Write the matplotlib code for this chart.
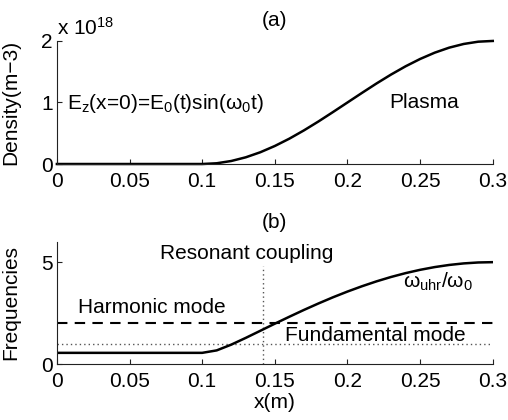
import matplotlib
matplotlib.use("Agg")
import matplotlib.pyplot as plt

plt.rcParams['font.family'] = ['Liberation Sans', 'DejaVu Sans']
plt.rcParams['mathtext.fontset'] = 'custom'
plt.rcParams['mathtext.rm'] = 'Liberation Sans'
plt.rcParams['mathtext.it'] = 'Liberation Sans'
plt.rcParams['font.size'] = 15

# positions along x (m)
x = [0.0, 0.10, 0.11, 0.12, 0.13, 0.14, 0.15, 0.16, 0.17, 0.18, 0.19, 0.20,
     0.21, 0.22, 0.23, 0.24, 0.25, 0.26, 0.27, 0.28, 0.29, 0.30]
# plasma density, units of 1e18 m^-3
density = [0.0, 0.0, 0.012, 0.049, 0.109, 0.191, 0.293, 0.412, 0.546, 0.691, 0.844, 1.0,
           1.156, 1.309, 1.454, 1.588, 1.707, 1.809, 1.891, 1.951, 1.988, 2.0]
# upper hybrid frequency over omega_0
w_uhr = [0.548, 0.548, 0.669, 0.951, 1.283, 1.631, 1.980, 2.321, 2.654, 2.972, 3.275, 3.557,
         3.818, 4.058, 4.273, 4.462, 4.624, 4.758, 4.863, 4.939, 4.985, 5.0]
harmonic = 2.0
fundamental = 1.0
x_res = 0.142
res_top = 4.8

xticks = [0, 0.05, 0.1, 0.15, 0.2, 0.25, 0.3]
xticklabels = ['0', '0.05', '0.1', '0.15', '0.2', '0.25', '0.3']

fig = plt.figure(figsize=(5.08, 4.2), dpi=100)
ax1 = fig.add_axes([0.112, 0.6095, 0.858, 0.293])
ax2 = fig.add_axes([0.112, 0.1333, 0.858, 0.291])

for ax in (ax1, ax2):
    for s in ('top', 'right'):
        ax.spines[s].set_visible(False)
    for s in ('left', 'bottom'):
        ax.spines[s].set_color('#222222')
        ax.spines[s].set_linewidth(0.8)
    ax.tick_params(direction='in', length=3.5, width=0.8, color='#222222')
    ax.tick_params(axis='x', pad=6)
    ax.tick_params(axis='y', pad=3)
    ax.set_xlim(0, 0.3)
    ax.set_xticks(xticks)
    ax.set_xticklabels(xticklabels)

# (a) density
ax1.plot(x, density, color='black', lw=1.8, clip_on=False)
ax1.set_ylim(0, 2)
ax1.set_yticks([0, 1, 2])
ax1.set_ylabel('Density(m\u22123)')
ax1.yaxis.set_label_coords(-0.083, 0.5)
ax1.set_title('(a)', fontsize=15, pad=11)
ax1.text(0.0, 1.05, 'x 10$^{18}$', transform=ax1.transAxes, ha='left', va='baseline')
ax1.text(0.007, 0.99, 'E$_z$(x=0)=E$_0$(t)sin(\u03c9$_0$t)', ha='left', va='center')
ax1.text(0.229, 1.0, 'Plasma', ha='left', va='center')

# (b) frequencies
ax2.axhline(harmonic, color='black', lw=1.5, ls=(0, (5, 3.5)))
ax2.axhline(fundamental, color='#555555', lw=1.0, ls=(0, (1, 2.2)))
ax2.plot([x_res, x_res], [0, res_top], color='#555555', lw=1.0, ls=(0, (1, 2.2)))
ax2.plot(x, w_uhr, color='black', lw=1.8)
ax2.set_ylim(0, 6)
ax2.set_yticks([0, 5])
ax2.set_ylabel('Frequencies')
ax2.yaxis.set_label_coords(-0.083, 0.5)
ax2.set_xlabel('x(m)')
ax2.xaxis.set_label_coords(0.5, -0.235)
ax2.set_title('(b)', fontsize=15, pad=10)
ax2.text(0.071, 5.44, 'Resonant coupling', ha='left', va='center')
ax2.text(0.0147, 2.77, 'Harmonic mode', ha='left', va='center')
ax2.text(0.157, 1.42, 'Fundamental mode', ha='left', va='center')
ax2.text(0.238, 4.05, '\u03c9$_{uhr}$/\u03c9$_0$', ha='left', va='center')

fig.savefig('out.png', dpi=100)
